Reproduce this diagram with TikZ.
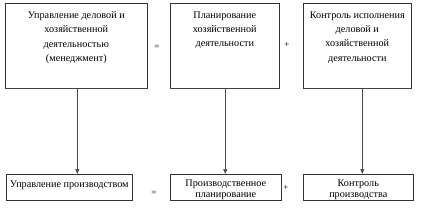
\documentclass[tikz,border=0pt]{standalone}
\usepackage{fontspec}
\setmainfont{Liberation Serif}
\usetikzlibrary{arrows.meta}
\newcommand{\topbox}[3]{\parbox[t][#1][t]{#2}{\vspace*{8.5pt}\centering\fontsize{10.2}{14.2}\selectfont #3\par}}
\newcommand{\lowbox}[3]{\parbox[t][#1][t]{#2}{\vspace*{5.5pt}\centering\fontsize{10.2}{11}\selectfont #3\par}}
\tikzset{
  box/.style={draw=black!80, line width=0.6pt, inner sep=0pt, anchor=north west},
  shadowline/.style={draw=black!75, line width=1.8pt},
  arr/.style={draw=black!70, line width=0.7pt, -{Triangle[length=5pt,width=4pt]}},
  sign/.style={inner sep=0pt, font=\fontsize{9}{9}\selectfont}
}
\begin{document}
\begin{tikzpicture}[x=1pt,y=-1pt]
\useasboundingbox (0,0) rectangle (423,211);
\node[box] (b1) at (5,3) {\topbox{85pt}{142pt}{Управление деловой и\\ хозяйственной\\ деятельностью\\ (менеджмент)}};
\node[box] (b2) at (170,3) {\topbox{85pt}{109pt}{Планирование\\ хозяйственной\\ деятельности}};
\node[box] (b3) at (303,3) {\topbox{85pt}{108pt}{Контроль исполнения\\ деловой и\\ хозяйственной\\ деятельности}};
\draw[shadowline] (b1.south west) -- (b1.south east);
\draw[shadowline] (b2.south west) -- (b2.south east);
\draw[shadowline] (b3.south west) -- (b3.south east);
\node[box] (b4) at (6,174) {\lowbox{26pt}{126pt}{\vspace*{1pt}Управление производством}};
\node[box] (b5) at (170,174) {\lowbox{26pt}{111pt}{Производственное\\ планирование}};
\node[box] (b6) at (303,174) {\lowbox{26pt}{110pt}{Контроль\\ производства}};
\node[sign] (e1) at (157,47) {=};
\node[sign] (p1) at (287,45) {+};
\node[sign] (e2) at (154,193) {=};
\node[sign] (p2) at (286,188) {+};
\draw[arr] ([xshift=1pt]b1.south) -- ([xshift=1pt]b1.south |- b4.north);
\draw[arr] ([xshift=0.5pt]b2.south) -- ([xshift=0.5pt]b2.south |- b5.north);
\draw[arr] ([xshift=5pt]b3.south) -- ([xshift=5pt]b3.south |- b6.north);
\end{tikzpicture}
\end{document}
